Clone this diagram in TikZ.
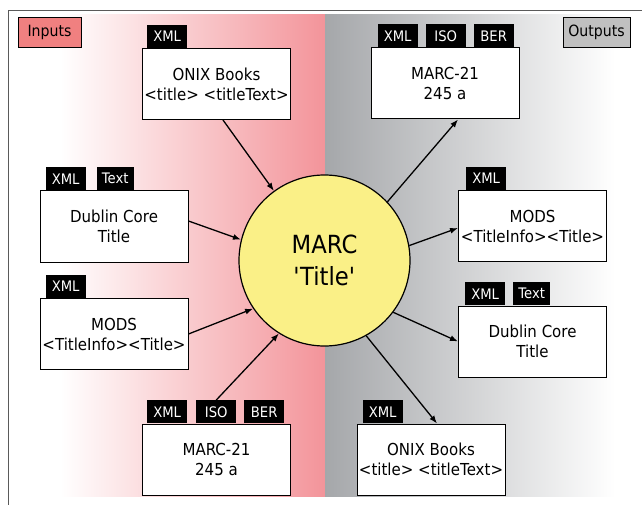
\documentclass[tikz,border=0pt]{standalone}
\usepackage{fontspec}
\setmainfont{DejaVu Sans}
\newfontfamily\condf[FakeStretch=0.91]{DejaVu Sans}
\usetikzlibrary{arrows.meta}
\definecolor{pinkbg}{RGB}{243,148,154}
\definecolor{graybg}{RGB}{165,167,170}
\definecolor{inpfill}{RGB}{240,128,128}
\definecolor{outfill}{RGB}{192,192,192}
\definecolor{circfill}{RGB}{250,240,135}
\definecolor{framec}{RGB}{90,90,90}
\begin{document}
\begin{tikzpicture}[x=1pt,y=-1pt,
  fmtbox/.style={draw=black, line width=1pt, fill=white, minimum width=148pt, minimum height=71pt,
    align=center, inner sep=0pt, font=\condf\fontsize{16.5}{20}\selectfont},
  tagbox/.style={fill=black, text=white, minimum width=40pt, minimum height=23pt, inner sep=0pt,
    anchor=south west, font=\condf\fontsize{14.5}{14.5}\selectfont},
  lblbox/.style={draw=black, line width=1pt, inner sep=0pt, minimum height=30pt,
    font=\condf\fontsize{15.5}{15.5}\selectfont},
  conn/.style={line width=1.3pt, -{Latex[length=8pt,width=6pt]}}
]
\useasboundingbox (0,0) rectangle (642,505);
\fill[white] (0,0) rectangle (642,505);
% backgrounds
\shade[left color=white, right color=pinkbg] (60,15) rectangle (325,496);
\shade[left color=graybg, right color=white] (325,15) rectangle (615,496);
% frame
\draw[framec, line width=0.8pt] (8,505) -- (8,10) -- (642,10);
% labels
\node[lblbox, fill=inpfill, minimum width=63pt] (inputs) at (49.5,32.5) {Inputs};
\node[lblbox, fill=outfill, minimum width=67pt] (outputs) at (596.5,32.5) {Outputs};
% central circle
\node[circle, draw=black, line width=1.2pt, fill=circfill, minimum size=171pt, inner sep=0pt,
  align=center, font=\condf\fontsize{25}{32}\selectfont] (marc) at (324.5,260.5)
  {MARC\\\textquotesingle Title\textquotesingle};
% input boxes
\node[fmtbox] (onixin) at (216.5,84) {ONIX Books\\<title> <titleText>};
\node[tagbox] (onixinX) at ([xshift=5pt]onixin.north west) {XML};
\node[fmtbox] (dcin) at (114,226.5) {Dublin Core\\Title};
\node[tagbox] (dcinX) at ([xshift=6pt]dcin.north west) {XML};
\node[tagbox, minimum width=37pt] (dcinT) at ([xshift=57pt]dcin.north west) {Text};
\node[fmtbox] (modsin) at (114,334) {MODS\\<TitleInfo><Title>};
\node[tagbox] (modsinX) at ([xshift=6pt]modsin.north west) {XML};
\node[fmtbox] (marcin) at (216.5,459.5) {MARC-21\\245 a};
\node[tagbox] (marcinX) at ([xshift=5pt]marcin.north west) {XML};
\node[tagbox] (marcinI) at ([xshift=54pt]marcin.north west) {ISO};
\node[tagbox] (marcinB) at ([xshift=102pt]marcin.north west) {BER};
% output boxes
\node[fmtbox] (marcout) at (445,83.5) {MARC-21\\245 a};
\node[tagbox] (marcoutX) at ([xshift=7pt]marcout.north west) {XML};
\node[tagbox] (marcoutI) at ([xshift=55pt]marcout.north west) {ISO};
\node[tagbox] (marcoutB) at ([xshift=103pt]marcout.north west) {BER};
\node[fmtbox] (modsout) at (532.5,226) {MODS\\<TitleInfo><Title>};
\node[tagbox] (modsoutX) at ([xshift=8pt]modsout.north west) {XML};
\node[fmtbox] (dcout) at (532.5,341.5) {Dublin Core\\Title};
\node[tagbox] (dcoutX) at ([xshift=7pt]dcout.north west) {XML};
\node[tagbox, minimum width=37pt] (dcoutT) at ([xshift=55pt]dcout.north west) {Text};
\node[fmtbox] (onixout) at (431,459.5) {ONIX Books\\<title> <titleText>};
\node[tagbox] (onixoutX) at ([xshift=6pt]onixout.north west) {XML};
% connectors
\draw[conn] ([xshift=6.5pt]onixin.south) -- (marc.126);
\draw[conn] ([yshift=5.5pt]dcin.east) -- (marc.166);
\draw[conn] (modsin.east) -- (marc.214);
\draw[conn] (marcinI.north) -- (marc.238);
\draw[conn] (marc.43) -- ([xshift=13pt]marcout.south);
\draw[conn] (marc.10) -- ([yshift=-2pt]modsout.west);
\draw[conn] (marc.-37) -- (dcout.west);
\draw[conn] (marc.-61) -- ([xshift=6pt]onixout.north);
\end{tikzpicture}
\end{document}
